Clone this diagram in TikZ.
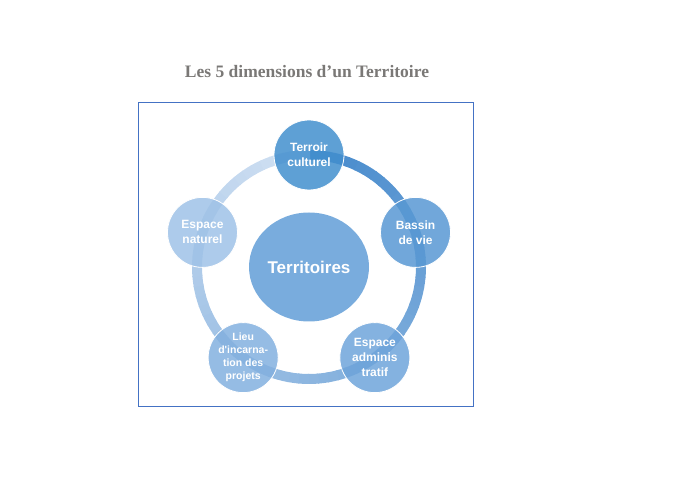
\documentclass[tikz,border=0pt]{standalone}
\usepackage{fontspec}
\setmainfont{Liberation Serif}
\newfontfamily\arialfont{Liberation Sans}
\usetikzlibrary{calc,shapes.geometric}
\definecolor{TitleGray}{RGB}{122,120,118}
\definecolor{FrameBlue}{RGB}{68,114,196}
\definecolor{RingDark}{RGB}{70,138,204}
\definecolor{RingLight}{RGB}{210,225,243}
\definecolor{CoreBlue}{RGB}{121,172,221}
\definecolor{TerroirBlue}{RGB}{66,143,206}
\definecolor{BassinBlue}{RGB}{88,152,211}
\definecolor{AdminBlue}{RGB}{110,164,218}
\definecolor{LieuBlue}{RGB}{131,176,223}
\definecolor{NaturelBlue}{RGB}{159,194,231}
\tikzset{
  title/.style={font=\bfseries\fontsize{17.5}{20}\selectfont,text=TitleGray},
  frame/.style={draw=FrameBlue,line width=0.9pt},
  ringpart/.style={line width=10pt},
  core/.style={ellipse,fill=CoreBlue,minimum width=120pt,minimum height=109pt,inner sep=0pt,text=white,font=\arialfont\bfseries\fontsize{17}{20}\selectfont},
  dim/.style={circle,draw=white,line width=0.8pt,minimum size=70pt,inner sep=0pt,align=center,text=white,fill opacity=0.85,draw opacity=1,text opacity=1,font=\arialfont\bfseries\fontsize{12}{15}\selectfont},
  dimsmall/.style={dim,font=\arialfont\bfseries\fontsize{10.5}{13}\selectfont}
}
\begin{document}
\begin{tikzpicture}[x=1pt,y=1pt]
  \useasboundingbox (0,0) rectangle (700,500);
  \node[title] (heading) at (307,428) {Les 5 dimensions d’un Territoire};
  \draw[frame] (138,94) rectangle (473,398);
  \coordinate (c) at (309,233);
  \foreach \i in {0,...,71}{
    \pgfmathtruncatemacro\p{100-\i*100/71}
    \draw[ringpart,color=RingDark!\p!RingLight] ($(c)+(90-5*\i:112)$) arc[start angle=90-5*\i,end angle=84.4-5*\i,radius=112];
  }
  \node[core] (territoires) at (c) {Territoires};
  \node[dim,fill=TerroirBlue] (terroir) at ($(c)+(90:112)$) {Terroir\\culturel};
  \node[dim,fill=BassinBlue] (bassin) at ($(c)+(18:112)$) {Bassin\\de vie};
  \node[dim,fill=AdminBlue] (admin) at ($(c)+(-54:112)$) {Espace\\adminis\\tratif};
  \node[dimsmall,fill=LieuBlue] (lieu) at ($(c)+(-126:112)$) {Lieu\\d'incarna-\\tion des\\projets};
  \node[dim,fill=NaturelBlue] (naturel) at ($(c)+(162:112)$) {Espace\\naturel};
\end{tikzpicture}
\end{document}
